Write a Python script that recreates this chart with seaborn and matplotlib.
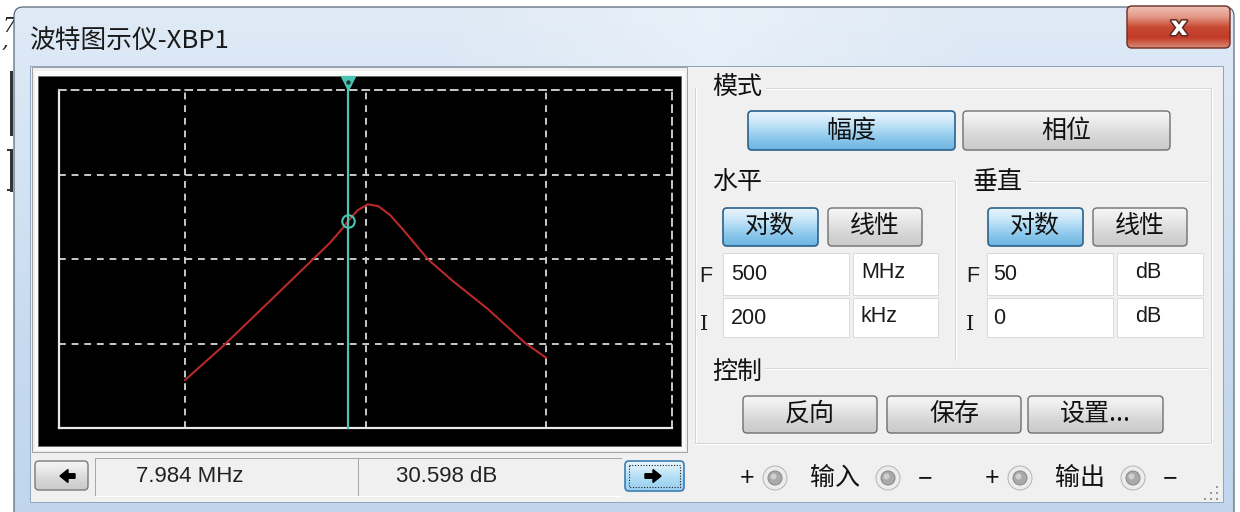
import numpy as np
import pandas as pd
import matplotlib
matplotlib.use("Agg")
import matplotlib.pyplot as plt
import matplotlib.transforms as mtransforms
import matplotlib.patheffects as pe
from matplotlib.patches import Rectangle, FancyBboxPatch, Circle, FancyArrow
from matplotlib.colors import LinearSegmentedColormap
from matplotlib.ticker import NullLocator
import seaborn as sns

# ---- magnitude sweep of the band-pass network ----
freq_mhz = [1.0, 1.62, 2.80, 5.09, 6.41, 7.55, 7.984, 9.04, 10.3, 11.8,
            13.7, 16.2, 22.3, 30.6, 47.2, 76.6, 100.0]
gain_db = [7.1, 12.1, 18.2, 24.9, 27.5, 29.7, 30.598, 32.2, 33.1, 32.8,
           31.5, 29.3, 24.9, 21.7, 17.7, 12.6, 10.4]

# ---- cursor readout ----
cursor_freq_mhz = 7.984
cursor_gain_db = 30.598
cursor_freq_text = "7.984 MHz"
cursor_gain_text = "30.598 dB"

# ---- instrument settings ----
h_final, h_final_unit = "500", "MHz"
h_initial, h_initial_unit = "200", "kHz"
v_final, v_final_unit = "50", "dB"
v_initial, v_initial_unit = "0", "dB"
x_min_hz, x_max_hz = 200e3, 500e6
y_min_db, y_max_db = 0, 50
x_grid_hz = [1e6, 1e7, 1e8]
y_grid_db = [12.5, 25.0, 37.5]

title_text = "波特图示仪-XBP1"

CJK = ["Noto Sans CJK SC", "DejaVu Sans"]
LAT = ["Liberation Sans", "DejaVu Sans"]
plt.rcParams["font.family"] = CJK

W, H = 1240, 512
fig = plt.figure(figsize=(W / 100, H / 100), dpi=100)
fig.patch.set_facecolor("white")

# full-window canvas in pixel units for the instrument chrome
ui = fig.add_axes([0, 0, 1, 1])
ui.set_xlim(0, W)
ui.set_ylim(H, 0)
ui.axis("off")

PX = 0.72  # one pixel in points

BLUE_BTN = ["#e8f5fd", "#cfe9f8", "#a9d8f3", "#86c4ea", "#6fb5e0"]
GRAY_BTN = ["#f6f6f6", "#ececec", "#dedede", "#d2d2d2", "#cbcbcb"]
RED_BTN = ["#eec0b4", "#e39a87", "#c84a34", "#c13b27", "#d88a76"]


def grad_box(x0, y0, x1, y1, colors, edge, r=4, lw=1.0, z=3):
    patch = FancyBboxPatch((x0, y0), x1 - x0, y1 - y0,
                           boxstyle=f"round,pad=0,rounding_size={r}",
                           fc="none", ec=edge, lw=lw * PX * 1.4, zorder=z + 0.5)
    ui.add_patch(patch)
    cmap = LinearSegmentedColormap.from_list("g", colors)
    g = np.linspace(0, 1, 128).reshape(-1, 1)
    im = ui.imshow(g, cmap=cmap, extent=(x0, x1, y1, y0), aspect="auto",
                   zorder=z, interpolation="bilinear")
    im.set_clip_path(patch)
    return patch


def etched_h(x0, x1, y):
    ui.plot([x0, x1], [y, y], color="#d5d5d5", lw=PX, zorder=2)
    ui.plot([x0, x1], [y + 1, y + 1], color="white", lw=PX, zorder=2)


def etched_v(x, y0, y1):
    ui.plot([x, x], [y0, y1], color="#d5d5d5", lw=PX, zorder=2)
    ui.plot([x + 1, x + 1], [y0, y1], color="white", lw=PX, zorder=2)


# ---- marks on the desktop behind the window ----
ui.text(2, 34, "7\n,", fontsize=15, family="DejaVu Serif", style="italic",
        color="#222222", va="center", ha="left", linespacing=0.75, zorder=1)
for y0, y1 in [(72, 134), (150, 190)]:
    ui.plot([11, 11], [y0, y1], color="#333333", lw=3 * PX, zorder=1)
ui.plot([8, 12], [150, 150], color="#333333", lw=2 * PX, zorder=1)
ui.plot([8, 12], [190, 190], color="#333333", lw=2 * PX, zorder=1)

# ---- window frame ----
win = FancyBboxPatch((14, 7), 1220, 530, boxstyle="round,pad=0,rounding_size=9",
                     fc="none", ec="#45586b", lw=1.1 * PX, zorder=1.5)
ui.add_patch(win)
wcm = LinearSegmentedColormap.from_list("w", ["#dfeaf6", "#d3e3f3", "#c6d9ee", "#c0d5ec"])
wim = ui.imshow(np.linspace(0, 1, 256).reshape(-1, 1), cmap=wcm,
                extent=(14, 1234, 537, 7), aspect="auto", zorder=1)
wim.set_clip_path(win)
# glassy streak in the caption
streak = LinearSegmentedColormap.from_list("s", ["#ffffff00", "#ffffff55", "#ffffff00"])
sim = ui.imshow(np.linspace(0, 1, 256).reshape(1, -1), cmap=streak,
                extent=(420, 1000, 66, 8), aspect="auto", zorder=1.1)

ui.text(30, 42, title_text, fontsize=18.5, color="#1a1a1a", va="center",
        ha="left", zorder=4)

# close button
grad_box(1127, 6, 1230, 48, RED_BTN, "#6b2c22", r=5, lw=1.0, z=4)
ui.text(1179, 28, "x", fontsize=19, fontweight="bold", family="DejaVu Sans",
        color="white", ha="center", va="center", zorder=6,
        path_effects=[pe.withStroke(linewidth=2.2, foreground="#5a2a22")])

# client area
ui.add_patch(Rectangle((30, 66), 1193, 436, fc="#f0f0f0", ec="#8fa6bf",
                       lw=PX, zorder=1.6))

# ---- screen frame ----
ui.add_patch(Rectangle((32, 67), 655, 385, fc="#f0f0f0", ec="#a3a3a3",
                       lw=PX, zorder=1.7))
ui.add_patch(Rectangle((35, 71), 649, 378, fc="#fbfbfb", ec="white",
                       lw=PX, zorder=1.75))
ui.add_patch(Rectangle((38, 76), 643, 370, fc="black", ec="#6a6a6a",
                       lw=PX, zorder=1.8))

# ---- status strip under the screen ----
grad_box(35, 461, 88, 490, GRAY_BTN, "#7a7a7a", r=4, lw=1.0, z=3)
ui.add_patch(FancyArrow(75, 476, -15, 0, width=4.5, head_width=13,
                        head_length=8, length_includes_head=True,
                        color="black", zorder=5))
ui.plot([95, 621], [458, 458], color="#a8a8a8", lw=PX, zorder=2)
ui.plot([95, 95], [458, 495], color="#a8a8a8", lw=PX, zorder=2)
ui.plot([358, 358], [458, 495], color="#a8a8a8", lw=PX, zorder=2)
ui.plot([95, 621], [496, 496], color="white", lw=PX, zorder=2)
ui.text(190, 477, cursor_freq_text, family=LAT, fontsize=16, color="#222222",
        ha="center", va="center", zorder=4)
ui.text(447, 477, cursor_gain_text, family=LAT, fontsize=16, color="#222222",
        ha="center", va="center", zorder=4)
grad_box(625, 461, 684, 491, ["#eaf6fd", "#d3edfa", "#b6e0f6", "#a3d5f2", "#9ccfee"],
         "#3c7fb1", r=4, lw=1.2, z=3)
ui.add_patch(Rectangle((629, 465), 51, 22, fc="none", ec="#222222",
                       lw=0.8, ls=(0, (1, 1.5)), zorder=5))
ui.add_patch(FancyArrow(645, 476, 16, 0, width=4.5, head_width=13,
                        head_length=8, length_includes_head=True,
                        color="black", zorder=5))

# ---- right-hand control panel ----
etched_v(695, 88, 443)
etched_h(695, 1211, 443)
etched_h(766, 1211, 88)
etched_v(1211, 88, 443)
etched_h(766, 953, 181)
etched_h(1028, 1208, 181)
etched_v(955, 181, 360)
etched_h(766, 1208, 368)

LBL = dict(fontsize=18, color="#111111", va="center", ha="left", zorder=4)
ui.text(712, 88, "模式", **LBL)
ui.text(712, 182, "水平", **LBL)
ui.text(973, 182, "垂直", **LBL)
ui.text(712, 372, "控制", **LBL)

BTN = dict(fontsize=18, color="#111111", va="center", ha="center", zorder=6)
grad_box(748, 111, 955, 150, BLUE_BTN, "#2c628b", r=4, lw=1.2)
ui.text(851, 131, "幅度", **BTN)
grad_box(963, 111, 1170, 150, GRAY_BTN, "#707070", r=4)
ui.text(1066, 131, "相位", **BTN)

grad_box(723, 208, 818, 246, BLUE_BTN, "#2c628b", r=4, lw=1.2)
ui.text(770, 226, "对数", **BTN)
grad_box(828, 208, 922, 246, GRAY_BTN, "#707070", r=4)
ui.text(875, 226, "线性", **BTN)
grad_box(988, 208, 1083, 246, BLUE_BTN, "#2c628b", r=4, lw=1.2)
ui.text(1035, 226, "对数", **BTN)
grad_box(1093, 208, 1187, 246, GRAY_BTN, "#707070", r=4)
ui.text(1140, 226, "线性", **BTN)

# setting fields
FIELD = dict(fc="white", ec="#dadada", lw=PX, zorder=2.5)
for (x0, x1) in [(723, 849), (853, 938), (987, 1113), (1117, 1203)]:
    ui.add_patch(Rectangle((x0, 253), x1 - x0, 42, **FIELD))
    ui.add_patch(Rectangle((x0, 298), x1 - x0, 39, **FIELD))

VAL = dict(family=LAT, fontsize=15.5, color="#1a1a1a", va="center", ha="left", zorder=4)
ui.text(699, 277, "F", **VAL)
ui.text(966, 277, "F", **VAL)
ui.text(700, 325, "I", family="DejaVu Serif", fontsize=15, color="#1a1a1a",
        va="center", ha="left", zorder=4)
ui.text(966, 325, "I", family="DejaVu Serif", fontsize=15, color="#1a1a1a",
        va="center", ha="left", zorder=4)
ui.text(731, 275, h_final, **VAL)
ui.text(861, 272, h_final_unit, **VAL)
ui.text(731, 318, h_initial, **VAL)
ui.text(861, 316, h_initial_unit, **VAL)
ui.text(993, 275, v_final, **VAL)
ui.text(1135, 272, v_final_unit, **VAL)
ui.text(993, 318, v_initial, **VAL)
ui.text(1135, 316, v_initial_unit, **VAL)

# control buttons
for (x0, x1, label) in [(743, 877, "反向"), (887, 1021, "保存"), (1028, 1163, "设置...")]:
    grad_box(x0, 396, x1, 433, GRAY_BTN, "#707070", r=4)
    ui.text((x0 + x1) / 2, 414, label, **BTN)

# terminal row
TERM = dict(fontsize=18, color="#111111", va="center", ha="center", zorder=4)
ui.text(747, 478, "+", family=LAT, **TERM)
ui.text(835, 478, "输入", **TERM)
ui.text(925, 478, "−", family=LAT, **TERM)
ui.text(992, 478, "+", family=LAT, **TERM)
ui.text(1080, 478, "输出", **TERM)
ui.text(1170, 478, "−", family=LAT, **TERM)
for cx in [775, 888, 1020, 1133]:
    ui.add_patch(Circle((cx, 478), 12, fc="#ececec", ec="#b5b5b5", lw=PX, zorder=3))
    ui.add_patch(Circle((cx, 478), 7, fc="#a9a9a9", ec="#8a8a8a", lw=PX, zorder=3.2))
    ui.add_patch(Circle((cx - 1.5, 476.5), 3, fc="#cfcfcf", ec="none", zorder=3.3))

for gx, gy in [(1216, 486), (1210, 492), (1216, 492), (1204, 498), (1210, 498), (1216, 498)]:
    ui.add_patch(Rectangle((gx, gy), 2, 2, fc="#9a9a9a", ec="none", zorder=3))

# ---- Bode magnitude plot ----
ax = fig.add_axes([59 / W, (H - 428) / H, (672 - 59) / W, (428 - 90) / H], zorder=5)
ax.set_facecolor("black")
ax.set_xscale("log")

df = pd.DataFrame({"freq_hz": np.array(freq_mhz) * 1e6, "gain_db": gain_db})
sns.lineplot(data=df, x="freq_hz", y="gain_db", ax=ax, color="#b8292b",
             lw=1.5, estimator=None)

ax.set_xlim(x_min_hz, x_max_hz)
ax.set_ylim(y_min_db, y_max_db)
ax.set_xticks(x_grid_hz)
ax.set_yticks(y_grid_db)
ax.xaxis.set_minor_locator(NullLocator())
ax.yaxis.set_minor_locator(NullLocator())
ax.tick_params(length=0, labelbottom=False, labelleft=False)
ax.set_xlabel("")
ax.set_ylabel("")
DASH = (0, (3.5, 3))
ax.grid(True, color="#c9c9c9", ls=DASH, lw=1.4)
ax.set_axisbelow(True)
for side in ["left", "bottom"]:
    ax.spines[side].set_color("#e8e8e8")
    ax.spines[side].set_linewidth(1.6)
for side in ["top", "right"]:
    ax.spines[side].set_color("#c9c9c9")
    ax.spines[side].set_linewidth(1.4)
    ax.spines[side].set_linestyle(DASH)

# measurement cursor
TEAL = "#4cc4b4"
cursor_hz = cursor_freq_mhz * 1e6
ax.axvline(cursor_hz, ymin=0, ymax=1.03, color=TEAL, lw=1.6, clip_on=False, zorder=4)
blend = mtransforms.blended_transform_factory(ax.transData, ax.transAxes)
ax.plot([cursor_hz], [1.022], transform=blend, marker="v", ms=10, color=TEAL,
        clip_on=False, zorder=5)
ax.plot([cursor_hz], [1.024], transform=blend, marker="o", ms=2.2, color="#1a3a36",
        clip_on=False, zorder=6)
ax.plot([cursor_hz], [cursor_gain_db], marker="o", ms=9, mfc="none", mec=TEAL,
        mew=1.5, zorder=6)

fig.savefig("out.png", dpi=100, facecolor=fig.get_facecolor())
